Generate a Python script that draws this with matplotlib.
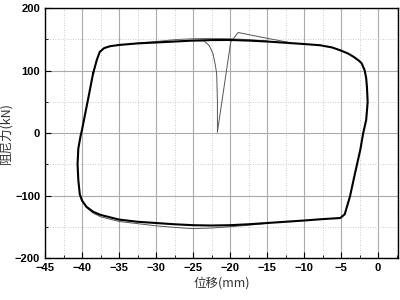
import matplotlib
matplotlib.use("Agg")
import matplotlib.pyplot as plt
from matplotlib.ticker import MultipleLocator

plt.rcParams['font.family'] = ['Liberation Sans', 'Noto Sans CJK SC', 'DejaVu Sans']

# Stabilised hysteresis loop (displacement mm, damping force kN), clockwise
loop_x = [-38.5, -38.0, -37.6, -37.0, -36.2, -35.0, -32.5, -30.0, -27.5, -25.0, -22.5,
          -20.0, -17.5, -15.0, -12.5, -10.0, -7.8, -6.2, -5.0, -4.0, -3.3, -2.6, -2.2,
          -1.8, -1.6, -1.5, -1.4, -1.5, -1.6, -2.0, -2.4, -3.1, -3.8, -4.5, -5.1,
          -7.8, -10.0, -12.5, -15.0, -17.5, -20.0, -22.5, -25.0, -27.5, -30.0, -32.5,
          -35.0, -37.5, -38.5, -39.4, -40.0, -40.3, -40.5, -40.6, -40.5, -40.2, -40.0,
          -39.5, -39.0, -38.5]
loop_y = [95.5, 117, 130, 136, 139, 141, 143.5, 145, 146.5, 148, 148.8,
          149, 148, 146.5, 144.5, 142.5, 140.5, 137, 132, 127, 122, 116, 111.5,
          100, 88, 74, 50, 35, 21, 0, -27, -64, -102, -130, -136,
          -138, -140, -142, -144, -146, -147.5, -148, -147.5, -146, -144, -142,
          -138.5, -131, -126, -118, -108, -98, -75, -50, -25, -5, 5,
          35, 65, 95.5]

# First cycle: initial loading and its deviating branches
init_x = [-21.7, -19.9, -18.9, -16.0, -12.0]
init_y = [2, 146, 161, 154, 145]
low1_x = [-15.0, -17.5, -20.0, -22.5, -25.0, -27.5, -30.0, -32.5, -35.0, -37.5, -38.5, -39.4]
low1_y = [-144.5, -147.5, -150, -152, -153, -151, -148.5, -145, -141.5, -134, -128, -119]
top1_x = [-32.5, -30.0, -27.5, -25.0, -22.5, -20.0, -17.5, -15.0]
top1_y = [144, 146.5, 149.5, 151, 151.5, 151, 149.5, 147.5]

# Final unloading back to zero force
unl_x = [-25.0, -23.5, -22.8, -22.3, -22.0, -21.8, -21.7, -21.7]
unl_y = [148, 147.5, 140, 127, 110, 95, 50, 2]

fig = plt.figure(figsize=(4, 3), dpi=100)
ax = fig.add_axes([0.1125, 0.14, 0.8825, 0.833])

ax.plot(init_x, init_y, color='#555555', lw=0.7)
ax.plot(top1_x, top1_y, color='#666666', lw=0.7)
ax.plot(low1_x, low1_y, color='#555555', lw=0.7)
ax.plot(unl_x, unl_y, color='#555555', lw=0.7)
ax.plot(loop_x, loop_y, color='black', lw=1.5, solid_joinstyle='round')

ax.set_xlim(-45, 2.7)
ax.set_ylim(-200, 200)
ax.xaxis.set_major_locator(MultipleLocator(5))
ax.xaxis.set_minor_locator(MultipleLocator(2.5))
ax.yaxis.set_major_locator(MultipleLocator(100))
ax.yaxis.set_minor_locator(MultipleLocator(50))
ax.grid(which='major', color='#aaaaaa', lw=0.8, ls='-')
ax.grid(which='minor', color='#bbbbbb', lw=0.6, ls=(0, (1, 2)))
ax.set_axisbelow(True)
ax.tick_params(which='both', direction='in', labelsize=8)
ax.tick_params(which='major', length=4, width=0.8)
ax.tick_params(which='minor', length=2, width=0.6)
for lab in ax.get_xticklabels() + ax.get_yticklabels():
    lab.set_fontweight('bold')
for s in ax.spines.values():
    s.set_linewidth(1.0)

ax.set_xlabel('位移(mm)', fontsize=9, color='#333333',
              family=['Noto Sans CJK SC', 'DejaVu Sans'], labelpad=3)
ax.set_ylabel('阻尼力(kN)', fontsize=9, color='#333333',
              family=['Noto Sans CJK SC', 'DejaVu Sans'], labelpad=2)

fig.savefig('out.png', dpi=100)
